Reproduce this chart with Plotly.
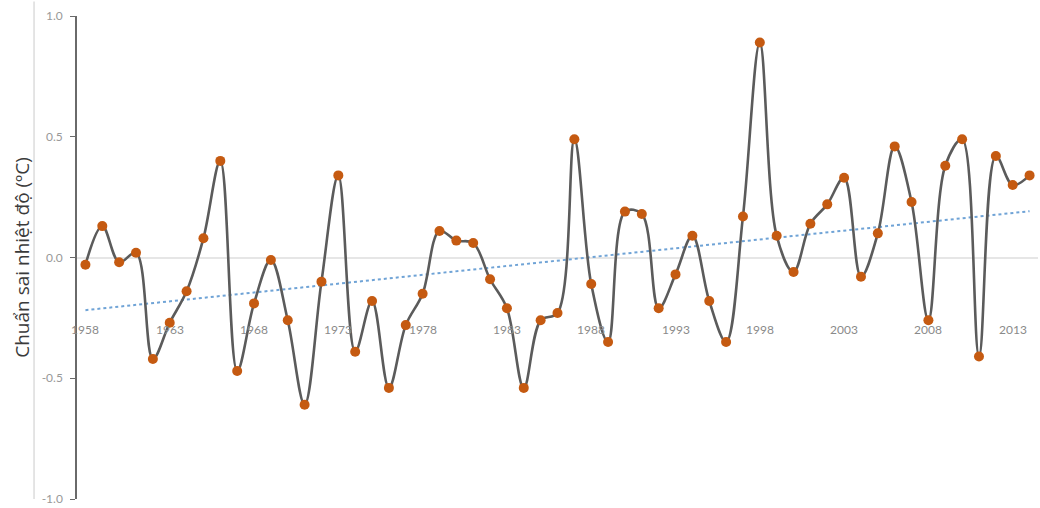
import numpy as np
import plotly.graph_objects as go

# Annual temperature anomaly series (°C), 1958–2014
years = list(range(1958, 2015))
anomaly = [
    -0.03, 0.13, -0.02, 0.02, -0.42, -0.27, -0.14, 0.08, 0.40, -0.47,
    -0.19, -0.01, -0.26, -0.61, -0.10, 0.34, -0.39, -0.18, -0.54, -0.28,
    -0.15, 0.11, 0.07, 0.06, -0.09, -0.21, -0.54, -0.26, -0.23, 0.49,
    -0.11, -0.35, 0.19, 0.18, -0.21, -0.07, 0.09, -0.18, -0.35, 0.17,
    0.89, 0.09, -0.06, 0.14, 0.22, 0.33, -0.08, 0.10, 0.46, 0.23,
    -0.26, 0.38, 0.49, -0.41, 0.42, 0.30, 0.34,
]
label_years = list(range(1958, 2014, 5))
y_ticks = [-1.0, -0.5, 0.0, 0.5, 1.0]

# Linear trend of the series
slope, intercept = np.polyfit(years, anomaly, 1)
trend = [slope * y + intercept for y in years]

fig = go.Figure()

fig.add_trace(go.Scatter(
    x=years, y=trend, mode="lines",
    line=dict(color="#6fa3d6", width=2, dash="dot"),
    hoverinfo="skip", showlegend=False,
))

fig.add_trace(go.Scatter(
    x=years, y=anomaly, mode="lines+markers",
    line=dict(color="#5b5b5b", width=2.6, shape="spline", smoothing=1.0),
    marker=dict(color="#c55a11", size=10, line=dict(width=0)),
    showlegend=False,
))

# Year labels sit just below the trend region, inside the plot
for yr in label_years:
    fig.add_annotation(
        x=yr, y=-0.3, text=str(yr), showarrow=False,
        xanchor="center", yanchor="middle",
        font=dict(family="Lato, Open Sans, sans-serif", size=12, color="#8a8a8a"),
    )

# Faint frame line at the far left
fig.add_shape(
    type="line", xref="paper", yref="paper",
    x0=-0.0447, x1=-0.0447, y0=0, y1=1.03,
    line=dict(color="#dcdcdc", width=1.5),
)

fig.update_layout(
    width=1040, height=508,
    margin=dict(l=77, r=2, t=16, b=9),
    paper_bgcolor="white", plot_bgcolor="white",
    font=dict(family="Lato, Open Sans, sans-serif", color="#8a8a8a"),
    xaxis=dict(
        range=[1957.5, 2014.5], showgrid=False, zeroline=False,
        showticklabels=False, showline=False, ticks="",
    ),
    yaxis=dict(
        range=[-1.0, 1.0], tickvals=y_ticks,
        ticktext=[f"{v:.1f}" for v in y_ticks],
        showgrid=False, zeroline=True, zerolinecolor="#e6e6e6", zerolinewidth=2,
        showline=True, linecolor="#6a6a6a", linewidth=1.5,
        ticks="outside", ticklen=5, tickcolor="#6a6a6a",
        ticklabelstandoff=5,
        tickfont=dict(size=12, color="#999999"),
        title=dict(
            text="Chuẩn sai nhiệt độ (ºC)",
            font=dict(family="Open Sans, sans-serif", size=19, color="#3a3a3a"),
            standoff=7,
        ),
    ),
)

fig.write_html("out.html")
